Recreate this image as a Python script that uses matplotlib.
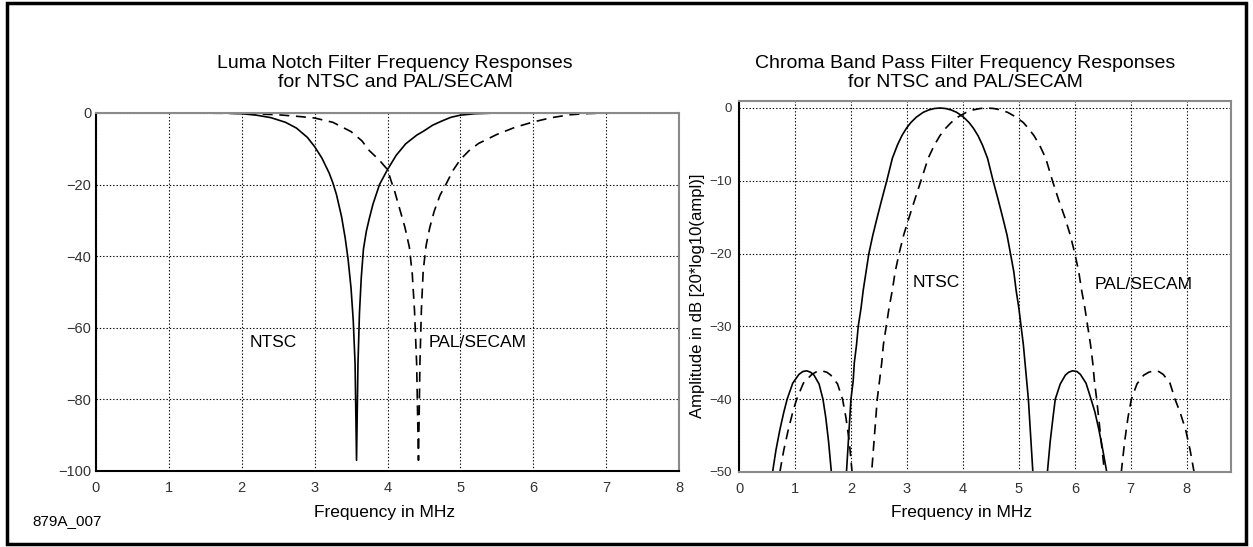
#!/usr/bin/python

import numpy as np
import matplotlib
matplotlib.use('Agg')
import matplotlib.pyplot as plt
from matplotlib.patches import Rectangle

plt.rcParams['font.family'] = ['Liberation Sans', 'DejaVu Sans']

# Luma notch responses (MHz, dB)
notch_ntsc_f = [0, 1, 1.5, 1.8, 2.0, 2.2, 2.4, 2.6, 2.75, 2.9, 3.0, 3.1, 3.2, 3.25, 3.3, 3.37,
                3.42, 3.46, 3.5, 3.53, 3.555, 3.575, 3.595, 3.615, 3.64, 3.67, 3.71, 3.75, 3.8,
                3.89, 4.0, 4.12, 4.25, 4.4, 4.5, 4.62, 4.75, 4.87, 5.0, 5.2, 5.5, 6, 8]
notch_ntsc_db = [0, 0, 0, -0.05, -0.2, -0.6, -1.3, -2.6, -4.2, -6.8, -9.4, -12.6, -16.8, -19.5,
                 -22.8, -29, -35, -41, -49, -58, -70, -97, -70, -56, -46, -38, -33, -29.5, -25.5,
                 -20, -15.8, -11.8, -8.6, -6.2, -5.0, -3.4, -2.2, -1.2, -0.6, -0.2, 0, 0, 0]

notch_pal_f = [0, 1, 2.0, 2.5, 2.8, 3.0, 3.25, 3.5, 3.65, 3.75, 3.88, 4.0, 4.05, 4.1, 4.17,
               4.24, 4.3, 4.34, 4.37, 4.40, 4.425, 4.445, 4.465, 4.49, 4.53, 4.58, 4.64, 4.72,
               4.8, 4.9, 5.0, 5.12, 5.25, 5.5, 5.75, 6.0, 6.25, 6.5, 6.75, 7, 8]
notch_pal_db = [0, 0, -0.1, -0.5, -1.0, -1.4, -2.6, -5.2, -7.8, -10.5, -13, -15.8, -19, -22,
                -27, -32, -37.5, -45, -55, -70, -97, -70, -55, -44, -37, -32, -27.5, -23,
                -20, -16, -13, -10.5, -8.5, -6.0, -4.0, -2.5, -1.3, -0.5, -0.15, 0, 0]

# Chroma band pass responses (MHz, dB)
bp_ntsc_f = [0.60, 0.66, 0.73, 0.80, 0.86, 0.96, 1.07, 1.14, 1.21, 1.28, 1.34, 1.43, 1.50,
             1.55, 1.60, 1.65,
             1.92, 1.96, 2.00, 2.04, 2.06, 2.10, 2.13, 2.18, 2.22, 2.27, 2.32, 2.39, 2.47, 2.55,
             2.64, 2.74, 2.83, 2.91, 2.99, 3.07, 3.17, 3.29, 3.39, 3.49, 3.59,
             3.69, 3.79, 3.89, 4.01, 4.11, 4.19, 4.27, 4.35, 4.44, 4.54, 4.63, 4.71, 4.79, 4.85,
             4.91, 4.95, 5.00, 5.04, 5.08, 5.11, 5.14, 5.17, 5.21, 5.25,
             5.51, 5.56, 5.61, 5.65, 5.74, 5.83, 5.89, 5.96, 6.04, 6.10, 6.20, 6.29, 6.36,
             6.43, 6.50, 6.57]
bp_ntsc_db = [-50, -47, -44.2, -41.8, -40, -37.8, -36.6, -36.2, -36.1, -36.3, -36.7, -37.9, -40,
              -42.5, -45.8, -50,
              -50, -45, -40, -37.5, -35, -32.5, -30, -27.5, -25, -22.5, -20, -17.5, -15, -12.6,
              -10, -6.9, -5.1, -3.8, -2.8, -2.0, -1.25, -0.6, -0.27, -0.07, 0,
              -0.07, -0.27, -0.6, -1.25, -2.0, -2.8, -3.8, -5.1, -6.9, -10, -12.6, -15, -17.5, -20,
              -22.5, -25, -27.5, -30, -32.5, -35, -37.5, -40, -45, -50,
              -50, -45.8, -42.5, -40, -37.9, -36.7, -36.3, -36.1, -36.2, -36.6, -37.8, -40, -41.8,
              -44.2, -47, -50]

bp_pal_f = [0.73, 0.80, 0.88, 0.96, 1.03, 1.15, 1.30, 1.39, 1.48, 1.57, 1.64, 1.76, 1.85,
            1.91, 1.97, 2.02,
            2.37, 2.42, 2.47, 2.51, 2.55, 2.58, 2.63, 2.68, 2.74, 2.79, 2.86, 2.94, 3.04, 3.14,
            3.25, 3.38, 3.49, 3.59, 3.69, 3.79, 3.91, 4.06, 4.18, 4.31, 4.43,
            4.55, 4.68, 4.80, 4.95, 5.08, 5.17, 5.27, 5.37, 5.48, 5.60, 5.71, 5.82, 5.92, 6.00,
            6.07, 6.12, 6.18, 6.23, 6.28, 6.32, 6.35, 6.39, 6.46, 6.53,
            6.83, 6.89, 6.95, 7.01, 7.11, 7.23, 7.32, 7.41, 7.50, 7.58, 7.70, 7.79, 7.88,
            7.98, 8.06, 8.13]
bp_pal_db = [-50, -47, -44.2, -41.8, -40, -37.8, -36.6, -36.2, -36.1, -36.3, -36.7, -37.9, -40,
             -42.5, -45.8, -50,
             -50, -45, -40, -37.5, -35, -32.5, -30, -27.5, -25, -22.5, -20, -17.5, -15, -12.6,
             -10, -6.9, -5.1, -3.8, -2.8, -2.0, -1.25, -0.6, -0.27, -0.07, 0,
             -0.07, -0.27, -0.6, -1.25, -2.0, -2.8, -3.8, -5.1, -6.9, -10, -12.6, -15, -17.5, -20,
             -22.5, -25, -27.5, -30, -32.5, -35, -37.5, -40, -45, -50,
             -50, -45.8, -42.5, -40, -37.9, -36.7, -36.3, -36.1, -36.2, -36.6, -37.8, -40, -41.8,
             -44.2, -47, -50]

left_yticks = [0, -20, -40, -60, -80, -100]
right_yticks = [0, -10, -20, -30, -40, -50]
xticks = [0, 1, 2, 3, 4, 5, 6, 7, 8]

W, H = 1253, 547


def px_box(x0, y0, x1, y1):
    return [x0 / W, 1 - y1 / H, (x1 - x0) / W, (y1 - y0) / H]


def style_axes(ax, bottom_color):
    for side in ['top', 'right']:
        ax.spines[side].set_color('#8a8a8a')
        ax.spines[side].set_linewidth(1.5)
    ax.spines['left'].set_color('black')
    ax.spines['left'].set_linewidth(1.5)
    ax.spines['bottom'].set_color(bottom_color)
    ax.spines['bottom'].set_linewidth(1.5)
    ax.tick_params(length=0, labelsize=10.5, labelcolor='#333333')
    ax.tick_params(axis='x', pad=7)
    ax.grid(True, color='black', linestyle=(0, (1.2, 1.8)), linewidth=0.8)
    ax.set_axisbelow(True)


fig = plt.figure(figsize=(W / 100, H / 100), dpi=100)

# left: luma notch
ax1 = fig.add_axes(px_box(96, 113, 679, 471))
ax1.plot(notch_ntsc_f, notch_ntsc_db, color='black', linewidth=1.2, clip_on=False)
ax1.plot(notch_pal_f, notch_pal_db, color='black', linewidth=1.2, linestyle=(0, (6, 4)),
         clip_on=False)
ax1.set_xlim(0, 8)
ax1.set_ylim(-100, 0)
ax1.set_xticks(xticks)
ax1.set_yticks(left_yticks)
style_axes(ax1, 'black')
ax1.text(2.11, -64.2, 'NTSC', fontsize=12.5, ha='left', va='center')
ax1.text(4.56, -64, 'PAL/SECAM', fontsize=12.5, ha='left', va='center')

# right: chroma band pass
ax2 = fig.add_axes(px_box(739, 101, 1231, 472))
ax2.plot(bp_ntsc_f, bp_ntsc_db, color='black', linewidth=1.2, clip_on=False)
ax2.plot(bp_pal_f, bp_pal_db, color='black', linewidth=1.2, linestyle=(0, (6, 4)),
         clip_on=False)
ax2.set_xlim(0, 8.79)
ax2.set_ylim(-50, 0.96)
ax2.set_xticks(xticks)
ax2.set_yticks(right_yticks)
style_axes(ax2, '#8a8a8a')
ax2.tick_params(axis='y', pad=5, labelsize=9.5)
ax2.text(3.11, -24.0, 'NTSC', fontsize=12.5, ha='left', va='center')
ax2.text(6.36, -24.2, 'PAL/SECAM', fontsize=12.5, ha='left', va='center')

# titles and labels placed in figure pixels
fig.text(395 / W, 1 - 73 / H, 'Luma Notch Filter Frequency Responses\nfor NTSC and PAL/SECAM',
         fontsize=14, ha='center', va='center', linespacing=1.1)
fig.text(965 / W, 1 - 73 / H, 'Chroma Band Pass Filter Frequency Responses\nfor NTSC and PAL/SECAM',
         fontsize=14, ha='center', va='center', linespacing=1.1)
fig.text(385 / W, 1 - 512 / H, 'Frequency in MHz', fontsize=12.5, ha='center', va='center')
fig.text(962 / W, 1 - 512 / H, 'Frequency in MHz', fontsize=12.5, ha='center', va='center')
fig.text(698 / W, 1 - 296 / H, 'Amplitude in dB [20*log10(ampl)]', fontsize=12,
         rotation=90, ha='center', va='center')
fig.text(32 / W, 1 - 521 / H, '879A_007', fontsize=11, ha='left', va='center')

# outer frame
fig.patches.append(Rectangle((7 / W, 3 / H), 1239 / W, 541 / H, transform=fig.transFigure,
                             fill=False, edgecolor='black', linewidth=2.5))

fig.savefig('out.png', dpi=100)
